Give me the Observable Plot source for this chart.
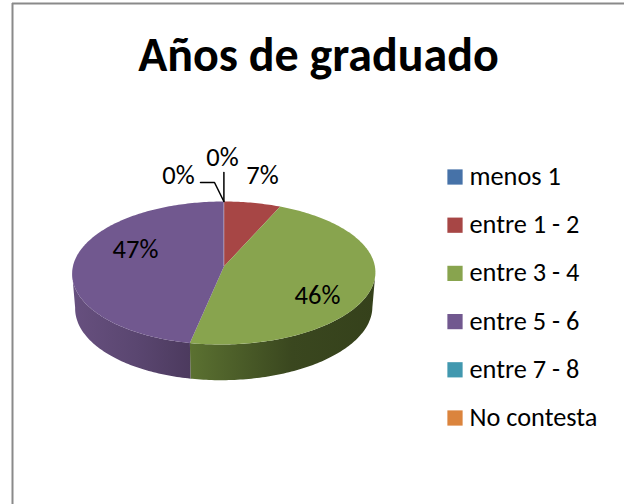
<!DOCTYPE html>
<html>
<head>
<meta charset="utf-8">
<script src="https://cdn.jsdelivr.net/npm/d3@7"></script>
<script src="https://cdn.jsdelivr.net/npm/@observablehq/plot@0.6"></script>
<style>
html,body{margin:0;padding:0;background:#fff}
svg{display:block}
</style>
</head>
<body>
<div id="chart"></div>
<script>
const title = "Años de graduado";
const categories = ["menos 1","entre 1 - 2","entre 3 - 4","entre 5 - 6","entre 7 - 8","No contesta"];
const shares = [0, 6.6, 46.4, 47.0, 0, 0];
const colors = ["#4672a8","#a74645","#88a44e","#71588f","#4198af","#db843d"];
const pieLabels = ["0%","7%","46%","47%","0%"];
const FONT = "Carlito, Lato, sans-serif";

// Pie geometry: a circle seen through a light perspective
const P = {cx:223.4, cy:266, a:151, b:70.9, k:-0.091, lean:3, botA:148, botCy:300.5, botB:72};
const ring = (deg,a,cy,b) => {
  const t = deg*Math.PI/180, u = Math.sin(t), v = -Math.cos(t), w = 1+P.k*v;
  return {x:P.cx+a*u/w-P.lean*v*(v+1)/2, y:cy+b*v/w};
};
const top3d = deg => ring(deg,P.a,P.cy,P.b);
const bot3d = deg => ring(deg,P.botA,P.botCy,P.botB);

const total = d3.sum(shares);
let acc = 0;
const slices = categories.map((c,i)=>{
  const start = acc/total*360; acc += shares[i];
  return {cat:c, color:colors[i], start, end:acc/total*360};
}).filter(s=>s.end>s.start);

const arcDegs = (a,b) => d3.range(a,b,1).concat([b]);
const faces = slices.flatMap(s=>[
  {cat:s.cat,x:P.cx,y:P.cy},
  ...arcDegs(s.start,s.end).map(d=>({cat:s.cat,...top3d(d)}))
]);
const wall = (a,b) => [
  ...arcDegs(a,b).map(top3d),
  ...arcDegs(a,b).reverse().map(bot3d)
];
const greenEnd = slices.find(s=>s.cat==="entre 3 - 4").end;
const wallGreen = wall(95.2, greenEnd);
const wallPurple = wall(greenEnd, 264.8);

const legend = categories.map((c,i)=>({cat:c,color:colors[i],y:176.5+i*48.2}));
const labels = [
  {t:pieLabels[0],x:222,y:165},
  {t:pieLabels[4],x:178,y:183},
  {t:pieLabels[1],x:262,y:183},
  {t:pieLabels[2],x:317,y:303},
  {t:pieLabels[3],x:135,y:257}
];
const leaders = [
  {id:"a",x:223.4,y:201},{id:"a",x:223.4,y:172},
  {id:"b",x:223.4,y:201},{id:"b",x:214,y:182},{id:"b",x:200,y:182}
];

const defs = () => {
  const ns = "http://www.w3.org/2000/svg";
  const d = document.createElementNS(ns,"defs");
  const grad = (id,stops) => {
    const g = document.createElementNS(ns,"linearGradient");
    g.setAttribute("id",id);
    stops.forEach(([o,c])=>{
      const s = document.createElementNS(ns,"stop");
      s.setAttribute("offset",o); s.setAttribute("stop-color",c); g.appendChild(s);
    });
    d.appendChild(g);
  };
  grad("gGreen",[[0,"#5b7131"],[0.55,"#3a471f"],[1,"#35411b"]]);
  grad("gPurple",[[0,"#67507f"],[0.55,"#5a4670"],[1,"#4c3a5e"]]);
  return d;
};

const chart = Plot.plot({
  width:624, height:504, margin:0,
  style:{background:"#fff",fontFamily:FONT},
  x:{domain:[0,624],range:[0,624],axis:null},
  y:{domain:[0,504],range:[0,504],axis:null},
  color:{domain:categories,range:colors},
  marks:[
    defs,
    Plot.ruleX([12],{y1:3,y2:504,stroke:"#8a8a8a",strokeWidth:2}),
    Plot.ruleY([3],{x1:12,x2:624,stroke:"#8a8a8a",strokeWidth:2}),
    Plot.line(wallGreen,{x:"x",y:"y",fill:"url(#gGreen)",stroke:"none"}),
    Plot.line(wallPurple,{x:"x",y:"y",fill:"url(#gPurple)",stroke:"none"}),
    Plot.line(faces,{x:"x",y:"y",z:"cat",fill:"cat",stroke:"none"}),
    Plot.ruleX([223.4],{y1:201,y2:266,stroke:"#d8cfe0",strokeWidth:0.7,strokeOpacity:0.7}),
    Plot.line(leaders,{x:"x",y:"y",z:"id",stroke:"#000",strokeWidth:1.5}),
    Plot.text(labels,{x:"x",y:"y",text:"t",fontSize:26.5,fill:"#000",textAnchor:"middle",lineAnchor:"bottom"}),
    Plot.text([title],{x:()=>318,y:()=>70,text:d=>d,fontSize:48,fontWeight:700,fill:"#000",textAnchor:"middle",lineAnchor:"bottom"}),
    Plot.dot(legend,{x:()=>454.5,y:"y",fill:"cat",symbol:"square",r:8.6,stroke:"none"}),
    Plot.text(legend,{x:()=>469,y:d=>d.y+8,text:"cat",fontSize:26.3,fill:"#000",textAnchor:"start",lineAnchor:"bottom"})
  ]
});
document.getElementById("chart").appendChild(chart);
</script>
</body>
</html>
